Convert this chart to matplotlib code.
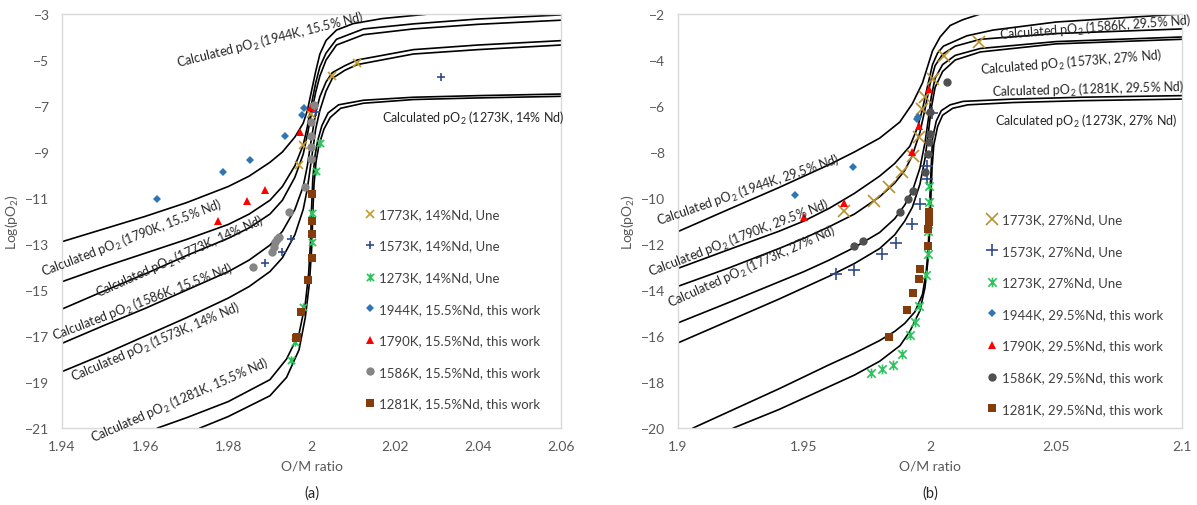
import matplotlib.pyplot as plt
from matplotlib.path import Path

plt.rcParams['font.family'] = 'Lato'
plt.rcParams['mathtext.default'] = 'regular'

# ---------------- panel (a): 14 / 15.5 % Nd ----------------
# calculated pO2 curves (O/M, log pO2)
calc_a = {
    '1944K, 15.5% Nd': (
        [1.94, 1.95, 1.96, 1.97, 1.98, 1.985, 1.99, 1.993, 1.996, 1.998, 1.999, 2.000, 2.001, 2.002, 2.0035, 2.006, 2.010, 2.017, 2.030, 2.045],
        [-12.9, -12.35, -11.8, -11.2, -10.5, -10.05, -9.45, -9.0, -8.35, -7.75, -7.2, -6.35, -5.5, -4.75, -4.15, -3.7, -3.42, -3.2, -2.97, -2.8]),
    '1790K, 15.5% Nd': (
        [1.94, 1.95, 1.96, 1.97, 1.98, 1.985, 1.99, 1.993, 1.996, 1.998, 1.999, 2.000, 2.001, 2.002, 2.0035, 2.006, 2.0125, 2.0245, 2.04, 2.06],
        [-14.64, -14.0, -13.4, -12.8, -12.15, -11.7, -11.1, -10.5, -9.6, -8.7, -7.9, -6.9, -6.0, -5.3, -4.7, -4.1, -3.65, -3.43, -3.22, -3.04]),
    '1773K, 14% Nd': (
        [1.94, 1.95, 1.96, 1.97, 1.98, 1.985, 1.99, 1.993, 1.996, 1.998, 1.999, 2.000, 2.001, 2.002, 2.0035, 2.006, 2.0125, 2.0245, 2.04, 2.06],
        [-15.83, -15.05, -14.3, -13.5, -12.75, -12.3, -11.7, -11.1, -10.1, -9.1, -8.25, -7.3, -6.4, -5.7, -5.0, -4.35, -3.9, -3.65, -3.45, -3.27]),
    '1586K, 15.5% Nd': (
        [1.94, 1.95, 1.96, 1.97, 1.98, 1.985, 1.99, 1.993, 1.996, 1.998, 1.999, 2.000, 2.001, 2.002, 2.0035, 2.005, 2.008, 2.011, 2.0245, 2.04, 2.06],
        [-17.32, -16.55, -15.8, -15.0, -14.2, -13.7, -13.05, -12.45, -11.5, -10.5, -9.6, -8.4, -7.3, -6.6, -5.95, -5.55, -5.25, -5.0, -4.55, -4.35, -4.16]),
    '1573K, 14% Nd': (
        [1.94, 1.95, 1.96, 1.97, 1.98, 1.985, 1.99, 1.993, 1.996, 1.998, 1.999, 2.000, 2.001, 2.002, 2.0035, 2.005, 2.008, 2.011, 2.0245, 2.04, 2.06],
        [-18.55, -17.8, -17.0, -16.2, -15.35, -14.85, -14.2, -13.6, -12.6, -11.5, -10.6, -9.3, -8.0, -7.2, -6.35, -5.8, -5.45, -5.2, -4.74, -4.55, -4.35]),
    '1281K, 15.5% Nd': (
        [1.963, 1.97, 1.98, 1.99, 1.994, 1.997, 1.9985, 1.9993, 1.9998, 2.0, 2.0003, 2.0008, 2.0015, 2.0025, 2.004, 2.0065, 2.0125, 2.0245, 2.04, 2.06],
        [-21.0, -20.55, -19.85, -18.9, -18.0, -16.9, -15.6, -14.3, -12.8, -11.5, -10.2, -9.2, -8.5, -7.85, -7.3, -6.95, -6.75, -6.62, -6.55, -6.48]),
    '1273K, 14% Nd': (
        [1.9732, 1.98, 1.99, 1.994, 1.997, 1.9985, 1.9995, 2.0001, 2.0003, 2.0006, 2.0011, 2.0018, 2.003, 2.0045, 2.007, 2.0125, 2.0245, 2.04, 2.06],
        [-21.0, -20.5, -19.6, -18.8, -17.6, -16.2, -14.7, -13.0, -11.7, -10.4, -9.4, -8.7, -8.0, -7.5, -7.1, -6.88, -6.72, -6.65, -6.58]),
}

une1773_a_x = [1.9970, 1.9980, 1.9999, 2.0049, 2.0110]
une1773_a_y = [-9.57, -8.70, -7.35, -5.71, -5.14]
une1573_a_x = [1.9888, 1.9928, 1.9950, 2.0011, 2.0311]
une1573_a_y = [-13.84, -13.33, -12.78, -7.27, -5.72]
une1273_a_x = [1.9950, 1.9960, 1.9980, 2.0000, 2.0000, 2.0010, 2.0020]
une1273_a_y = [-18.04, -17.25, -15.73, -12.93, -11.67, -9.84, -8.61]
tw1944_a_x = [1.9628, 1.9788, 1.9852, 1.9936, 1.9978, 1.9982]
tw1944_a_y = [-11.04, -9.88, -9.33, -8.32, -7.40, -7.10]
tw1790_a_x = [1.9775, 1.9844, 1.9888, 1.9972, 1.9998]
tw1790_a_y = [-11.99, -11.12, -10.64, -8.12, -7.03]
tw1586_a_x = [1.9860, 1.9904, 1.9910, 1.9912, 1.9918, 1.9923, 1.9947, 1.9984, 1.9999, 1.9999, 1.9999, 1.9999, 2.0006]
tw1586_a_y = [-14.01, -13.36, -13.15, -12.93, -12.80, -12.68, -11.62, -10.51, -9.30, -8.80, -8.30, -7.70, -6.95]
tw1281_a_x = [1.9963, 1.9966, 1.9974, 1.9992, 2.0000, 2.0000, 2.0000, 2.0000]
tw1281_a_y = [-17.10, -17.03, -15.97, -14.55, -13.61, -12.55, -12.01, -10.83]

# ---------------- panel (b): 27 / 29.5 % Nd ----------------
calc_b = {
    '1944K, 29.5% Nd': (
        [1.90, 1.92, 1.94, 1.96, 1.97, 1.98, 1.988, 1.993, 1.997, 1.999, 2.001, 2.004, 2.008, 2.013, 2.020, 2.030],
        [-11.46, -10.5, -9.55, -8.55, -8.0, -7.4, -6.7, -5.9, -5.0, -4.3, -3.6, -3.0, -2.5, -2.25, -2.0, -1.8]),
    '1790K, 29.5% Nd': (
        [1.90, 1.92, 1.94, 1.95, 1.96, 1.97, 1.98, 1.986, 1.992, 1.995, 1.997, 1.999, 2.001, 2.003, 2.0053, 2.0146, 2.025, 2.05, 2.10],
        [-13.06, -12.25, -11.45, -11.0, -10.45, -9.8, -9.05, -8.5, -7.75, -6.95, -6.15, -5.15, -4.2, -3.7, -3.4, -2.95, -2.7, -2.35, -2.0]),
    '1773K, 27% Nd': (
        [1.90, 1.92, 1.94, 1.95, 1.96, 1.97, 1.98, 1.986, 1.99, 1.993, 1.996, 1.998, 2.000, 2.002, 2.005, 2.010, 2.020, 2.050, 2.10],
        [-13.84, -13.05, -12.2, -11.75, -11.25, -10.7, -9.95, -9.35, -8.8, -8.15, -7.15, -6.15, -5.05, -4.25, -3.75, -3.4, -3.1, -2.85, -2.65]),
    '1586K, 29.5% Nd': (
        [1.90, 1.92, 1.94, 1.95, 1.96, 1.97, 1.98, 1.986, 1.99, 1.993, 1.996, 1.998, 1.9993, 2.0005, 2.002, 2.005, 2.010, 2.020, 2.050, 2.10],
        [-15.43, -14.55, -13.65, -13.2, -12.7, -12.15, -11.5, -10.9, -10.3, -9.7, -8.7, -7.6, -6.6, -5.6, -4.8, -4.2, -3.8, -3.5, -3.2, -3.0]),
    '1573K, 27% Nd': (
        [1.90, 1.92, 1.94, 1.95, 1.96, 1.97, 1.98, 1.986, 1.99, 1.993, 1.996, 1.998, 1.9993, 2.0005, 2.002, 2.005, 2.010, 2.020, 2.050, 2.10],
        [-16.30, -15.35, -14.4, -13.9, -13.4, -12.85, -12.2, -11.6, -11.0, -10.4, -9.4, -8.3, -7.2, -6.1, -5.2, -4.5, -4.0, -3.65, -3.3, -3.1]),
    '1281K, 29.5% Nd': (
        [1.906, 1.92, 1.94, 1.96, 1.97, 1.98, 1.986, 1.99, 1.994, 1.997, 1.9985, 1.9993, 1.9997, 2.0, 2.0005, 2.001, 2.0025, 2.0045, 2.008, 2.0131, 2.033, 2.06, 2.10],
        [-20.0, -19.3, -18.3, -17.25, -16.75, -16.2, -15.8, -15.45, -14.95, -14.2, -13.2, -12.2, -11.0, -9.8, -8.6, -7.4, -6.65, -6.2, -5.95, -5.8, -5.7, -5.62, -5.55]),
    '1273K, 27% Nd': (
        [1.922, 1.94, 1.96, 1.97, 1.98, 1.9881, 1.992, 1.996, 1.998, 1.9993, 2.0, 2.0004, 2.0008, 2.0015, 2.003, 2.005, 2.009, 2.015, 2.033, 2.06, 2.10],
        [-20.0, -19.2, -18.2, -17.7, -17.1, -16.42, -15.8, -14.9, -13.9, -12.6, -11.2, -9.8, -8.7, -7.7, -6.9, -6.4, -6.1, -5.95, -5.85, -5.77, -5.7]),
}

une1773_b_x = [1.9660, 1.9778, 1.9839, 1.9888, 1.9934, 1.9956, 1.9967, 1.9982, 2.0010, 2.0056, 2.0195]
une1773_b_y = [-10.58, -10.12, -9.54, -8.88, -8.16, -7.35, -6.15, -5.62, -4.83, -3.81, -3.22]
une1573_b_x = [1.9627, 1.9700, 1.9808, 1.9865, 1.9927, 1.9960, 1.9989, 1.9989, 2.0009]
une1573_b_y = [-13.30, -13.12, -12.43, -11.96, -11.13, -10.26, -9.17, -8.60, -6.30]
une1273_b_x = [1.9765, 1.9808, 1.9854, 1.9888, 1.9921, 1.9940, 1.9956, 1.9983, 1.9993, 1.9991, 1.9997, 1.9997]
une1273_b_y = [-17.61, -17.43, -17.25, -16.78, -15.96, -15.38, -14.68, -13.35, -12.43, -11.42, -10.19, -9.46]
tw1944_b_x = [1.9464, 1.9696, 1.9947, 1.9953]
tw1944_b_y = [-9.87, -8.64, -6.57, -6.50]
tw1790_b_x = [1.9500, 1.9659, 1.9927, 1.9955, 1.9996]
tw1790_b_y = [-10.84, -10.22, -8.02, -6.88, -5.26]
tw1586_b_x = [1.9698, 1.9735, 1.9881, 1.9914, 1.9934, 1.9980, 1.9991, 1.9996, 2.0000, 2.0000, 2.0066]
tw1586_b_y = [-12.07, -11.86, -10.62, -10.04, -9.68, -8.88, -8.09, -7.58, -7.22, -6.27, -4.94]
tw1281_b_x = [1.9839, 1.9910, 1.9931, 1.9958, 1.9960, 1.9991, 1.9991, 1.9996, 1.9996, 1.9996]
tw1281_b_y = [-16.06, -14.87, -14.13, -13.52, -13.09, -12.07, -11.35, -11.05, -10.85, -10.62]

# curve label placement: (name, x, y, rotation)
labels_a = [
    ('1944K, 15.5% Nd', 1.990, -4.09, 14),
    ('1273K, 14% Nd', 2.0388, -7.48, 0),
    ('1790K, 15.5% Nd', 1.9568, -12.70, 21),
    ('1773K, 14% Nd', 1.9684, -13.52, 24),
    ('1586K, 15.5% Nd', 1.9595, -15.48, 21),
    ('1573K, 14% Nd', 1.9624, -17.26, 23),
    ('1281K, 15.5% Nd', 1.9684, -19.78, 23.5),
]
labels_b = [
    ('1944K, 29.5% Nd', 1.9278, -9.65, 19),
    ('1790K, 29.5% Nd', 1.9242, -11.74, 21),
    ('1773K, 27% Nd', 1.9294, -12.96, 24),
    ('1586K, 29.5% Nd', 2.0655, -2.57, 4.4),
    ('1573K, 27% Nd', 2.0560, -4.09, 4.7),
    ('1281K, 29.5% Nd', 2.0625, -5.26, 1.5),
    ('1273K, 27% Nd', 2.0619, -6.65, 0),
]

# Excel-style star marker: an X crossed by a vertical bar
star = Path([(-1, -1), (1, 1), (-1, 1), (1, -1), (0, -1.15), (0, 1.15)],
            [Path.MOVETO, Path.LINETO] * 3)

GOLD = '#C49A2C'
NAVY = '#2F4B8C'
GREEN = '#2DC45E'
BLUE = '#2E75B6'
RED = '#FF0000'
BROWN = '#843C0C'
TXT = '#595959'

fig = plt.figure(figsize=(11.97, 5.06), dpi=100)
ax_a = fig.add_axes([0.0518, 0.1522, 0.4169, 0.8182])
ax_b = fig.add_axes([0.5664, 0.1522, 0.4211, 0.8182])


def draw_panel(ax, calc, labels, series, label_size):
    for xs, ys in calc.values():
        ax.plot(xs, ys, color='black', lw=1.2, zorder=2)
    for name, x, y, rot in labels:
        ax.text(x, y, 'Calculated pO$_2$ (' + name + ')', rotation=rot, rotation_mode='anchor',
                ha='center', va='center', fontsize=label_size, color='#262626',
                clip_on=False, zorder=4)
    handles = []
    for label, xs, ys, marker, color, ms, mew in series:
        h, = ax.plot(xs, ys, ls='none', marker=marker, ms=ms, color=color, mfc=color,
                     mec=color, mew=mew, zorder=3, label=label)
        handles.append(h)
    return handles


series_a = [
    ('1773K, 14%Nd, Une', une1773_a_x, une1773_a_y, 'x', GOLD, 6, 1.2),
    ('1573K, 14%Nd, Une', une1573_a_x, une1573_a_y, '+', NAVY, 6, 1.2),
    ('1273K, 14%Nd, Une', une1273_a_x, une1273_a_y, star, GREEN, 6, 1.2),
    ('1944K, 15.5%Nd, this work', tw1944_a_x, tw1944_a_y, 'D', BLUE, 4.5, 0),
    ('1790K, 15.5%Nd, this work', tw1790_a_x, tw1790_a_y, '^', RED, 6, 0),
    ('1586K, 15.5%Nd, this work', tw1586_a_x, tw1586_a_y, 'o', '#868686', 6, 0),
    ('1281K, 15.5%Nd, this work', tw1281_a_x, tw1281_a_y, 's', BROWN, 5.5, 0),
]
series_b = [
    ('1773K, 27%Nd, Une', une1773_b_x, une1773_b_y, 'x', '#B8922E', 8, 1.2),
    ('1573K, 27%Nd, Une', une1573_b_x, une1573_b_y, '+', NAVY, 8, 1.2),
    ('1273K, 27%Nd, Une', une1273_b_x, une1273_b_y, star, GREEN, 7, 1.2),
    ('1944K, 29.5%Nd, this work', tw1944_b_x, tw1944_b_y, 'D', BLUE, 4.5, 0),
    ('1790K, 29.5%Nd, this work', tw1790_b_x, tw1790_b_y, '^', RED, 6, 0),
    ('1586K, 29.5%Nd, this work', tw1586_b_x, tw1586_b_y, 'o', '#505050', 6, 0),
    ('1281K, 29.5%Nd, this work', tw1281_b_x, tw1281_b_y, 's', BROWN, 6, 0),
]

h_a = draw_panel(ax_a, calc_a, labels_a, series_a, 9)
h_b = draw_panel(ax_b, calc_b, labels_b, series_b, 9)

for ax, xlim, ylim, xticks, yticks, tag, leg_xy, h in [
        (ax_a, (1.94, 2.06), (-21, -3), [1.94, 1.96, 1.98, 2.0, 2.02, 2.04, 2.06],
         range(-21, -2, 2), '(a)', (0.593, 0.547), h_a),
        (ax_b, (1.9, 2.1), (-20, -2), [1.9, 1.95, 2.0, 2.05, 2.1],
         range(-20, -1, 2), '(b)', (0.600, 0.534), h_b)]:
    ax.set_xlim(*xlim)
    ax.set_ylim(*ylim)
    ax.set_xticks(xticks)
    ax.set_xticklabels(['%g' % t for t in xticks])
    ax.set_yticks(list(yticks))
    ax.tick_params(length=0, labelsize=10, colors=TXT, pad=9)
    for s in ax.spines.values():
        s.set_color('#D9D9D9')
        s.set_linewidth(1.0)
    ax.set_xlabel('O/M ratio', fontsize=10, color=TXT, labelpad=5)
    ax.set_ylabel('Log(pO$_2$)', fontsize=10, color=TXT, labelpad=3)
    ax.text(0.5, -0.155, tag, transform=ax.transAxes, ha='center', va='center',
            fontsize=10.5, color='#262626')
    ax.legend(handles=h, loc='upper left', bbox_to_anchor=leg_xy, frameon=False,
              borderpad=0, handlelength=0.8, handletextpad=0.3, labelspacing=1.48,
              fontsize=9.5, labelcolor='#404040')

fig.savefig('out.png', dpi=100)
